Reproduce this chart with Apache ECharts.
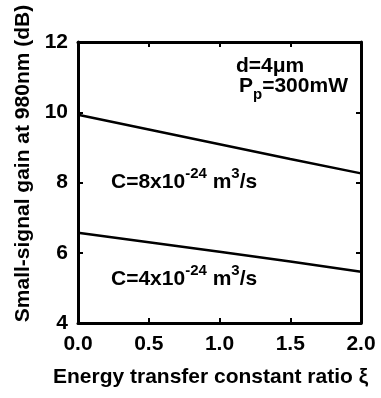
<!DOCTYPE html>
<html>
<head>
<meta charset="utf-8">
<script src="https://cdn.jsdelivr.net/npm/echarts@6/dist/echarts.min.js"></script>
<style>
  html, body { margin: 0; padding: 0; background: #fff; }
  #chart { width: 381px; height: 398px; }
</style>
</head>
<body>
<div id="chart"></div>
<script>
// data
const xi = [0, 0.5, 1.0, 1.5, 2.0]
const gainC8 = [9.93, 9.51, 9.09, 8.67, 8.26]
const gainC4 = [6.57, 6.3, 6.03, 5.75, 5.46]

const font = 'Arial, "Liberation Sans", sans-serif'

const chart = echarts.init(document.getElementById('chart'))

// rich styles for the in-plot labels
const rich = {
  b: { fontSize: 21, fontWeight: 'bold', fontFamily: font, color: '#000', lineHeight: 32 },
  sup: { fontSize: 15, fontWeight: 'bold', fontFamily: font, color: '#000', lineHeight: 6, verticalAlign: 'top' },
  sub: { fontSize: 15, fontWeight: 'bold', fontFamily: font, color: '#000', lineHeight: 20, verticalAlign: 'bottom' }
}

const axisCommon = {
  axisLine: { onZero: false, lineStyle: { color: '#000', width: 3 } },
  axisTick: { inside: true, length: 5, lineStyle: { color: '#000', width: 2 } },
  splitLine: { show: false }
}

const option = {
  animation: false,
  grid: { left: 78, right: 20, top: 42, bottom: 75 },
  xAxis: [
    {
      type: 'value', min: 0, max: 2, interval: 0.5,
      name: 'Energy transfer constant ratio ξ',
      nameLocation: 'middle',
      nameGap: 44,
      nameTextStyle: { fontSize: 21, fontWeight: 'bold', fontFamily: font, color: '#000', padding: [0, 0, 0, -18] },
      ...axisCommon,
      axisLabel: { fontSize: 21, fontWeight: 'bold', fontFamily: font, color: '#000', margin: 11,
        formatter: v => v.toFixed(1) }
    },
    {
      type: 'value', min: 0, max: 2, interval: 0.5, position: 'top',
      ...axisCommon,
      axisLabel: { show: false }
    }
  ],
  yAxis: [
    {
      type: 'value', min: 4, max: 12, interval: 2,
      name: 'Small-signal gain at 980nm (dB)',
      nameLocation: 'middle',
      nameGap: 42,
      nameTextStyle: { fontSize: 21, fontWeight: 'bold', fontFamily: font, color: '#000', padding: [0, 0, 0, 38] },
      ...axisCommon,
      axisLabel: { fontSize: 21, fontWeight: 'bold', fontFamily: font, color: '#000', margin: 10 }
    },
    {
      type: 'value', min: 4, max: 12, interval: 2, position: 'right',
      ...axisCommon,
      axisLabel: { show: false }
    }
  ],
  graphic: [
    { type: 'text', left: 236, top: 56, style: { text: '{b|d=4μm}', rich } },
    { type: 'text', left: 239, top: 76, style: { text: '{b|P}{sub|p}{b|=300mW}', rich } },
    { type: 'text', left: 111, top: 166, style: { text: '{b|C=8x10}{sup|-24}{b| m}{sup|3}{b|/s}', rich } },
    { type: 'text', left: 111, top: 263, style: { text: '{b|C=4x10}{sup|-24}{b| m}{sup|3}{b|/s}', rich } }
  ],
  series: [
    {
      type: 'line',
      data: xi.map((x, i) => [x, gainC8[i]]),
      showSymbol: false,
      lineStyle: { color: '#000', width: 2.5 }
    },
    {
      type: 'line',
      data: xi.map((x, i) => [x, gainC4[i]]),
      showSymbol: false,
      lineStyle: { color: '#000', width: 2.5 }
    }
  ]
}

chart.setOption(option)
</script>
</body>
</html>
